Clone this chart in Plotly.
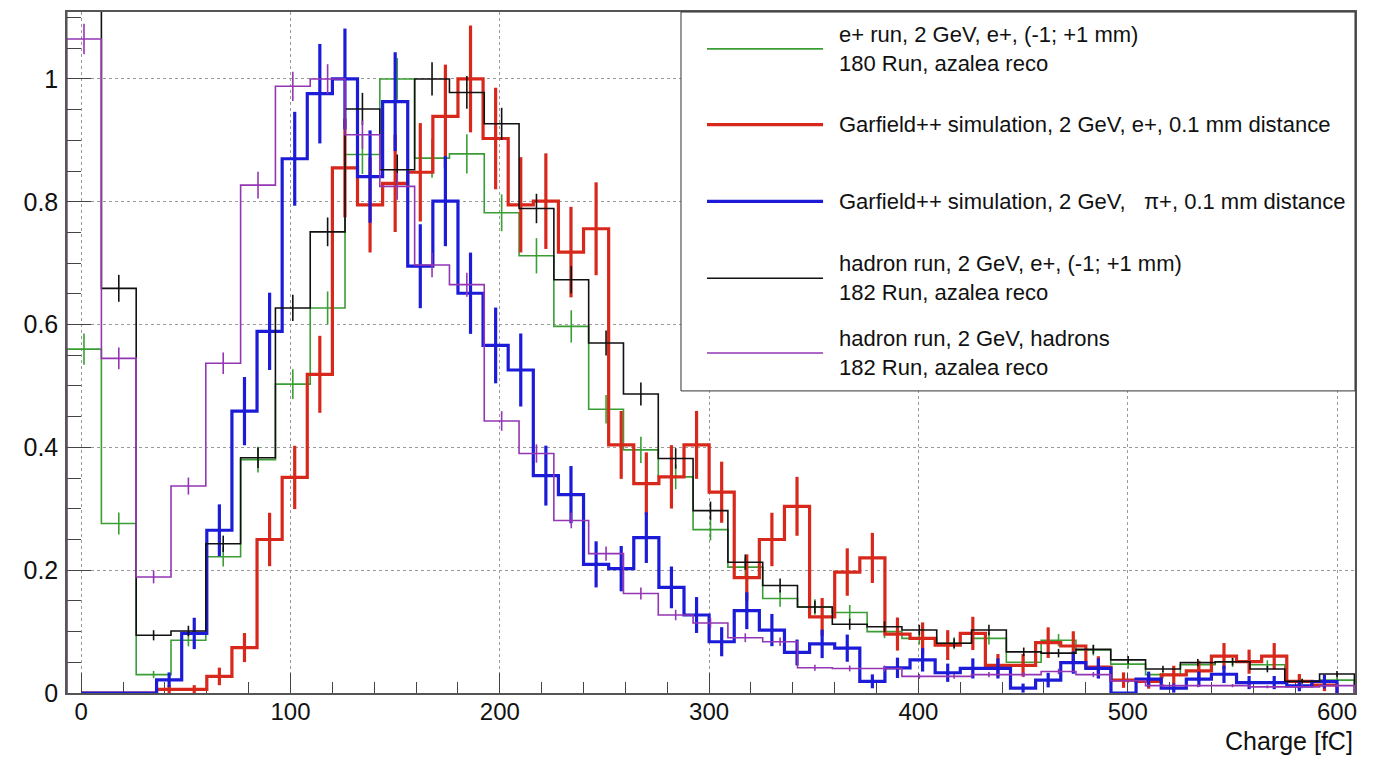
import plotly.graph_objects as go

# ---------------- data ----------------
# measured histograms: 37 bins, lower edge DATA_LO, width DATA_BW
DATA_LO = -7.0
DATA_BW = 16.63
green = [0.56, 0.276, 0.030, 0.086, 0.222, 0.38, 0.503, 0.627, 0.877, 1.0, 0.871, 0.878,
         0.782, 0.712, 0.597, 0.462, 0.396, 0.352, 0.266, 0.205, 0.154, 0.140, 0.131, 0.100,
         0.089, 0.081, 0.089, 0.050, 0.086, 0.070, 0.047, 0.030, 0.046, 0.050, 0.046, 0.019, 0.021]
black = [1.35, 0.659, 0.094, 0.101, 0.243, 0.383, 0.627, 0.751, 0.951, 0.852, 1.0, 0.978,
         0.927, 0.789, 0.673, 0.570, 0.487, 0.382, 0.297, 0.213, 0.175, 0.140, 0.112, 0.108,
         0.1025, 0.081, 0.1025, 0.067, 0.065, 0.071, 0.054, 0.039, 0.0495, 0.051, 0.039, 0.019, 0.031]
purple = [1.065, 0.545, 0.189, 0.337, 0.537, 0.827, 0.988, 1.0, 0.909, 0.825, 0.697, 0.665,
          0.443, 0.390, 0.281, 0.227, 0.162, 0.127, 0.114, 0.090, 0.0835, 0.041, 0.040, 0.040,
          0.027, 0.027, 0.030, 0.030, 0.035, 0.030, 0.020, 0.012, 0.012, 0.012, 0.010, 0.010, 0.012]

# simulated histograms: 50 bins, lower edge SIM_LO, width SIM_BW
SIM_LO = 0.0
SIM_BW = 12.0
red = [0, 0, 0, 0.006, 0.006, 0.027, 0.074, 0.250, 0.351, 0.519,
       0.855, 0.795, 0.830, 0.848, 0.939, 1.0, 0.903, 0.795, 0.801, 0.718,
       0.756, 0.404, 0.341, 0.352, 0.404, 0.327, 0.188, 0.250, 0.304, 0.124,
       0.197, 0.220, 0.096, 0.089, 0.078, 0.097, 0.045, 0.045, 0.082, 0.0765,
       0.042, 0.021, 0.019, 0.0295, 0.036, 0.060, 0.051, 0.060, 0.019, 0.013]
blue = [0, 0, 0, 0.0215, 0.097, 0.265, 0.459, 0.589, 0.870, 0.976,
        1.0, 0.841, 0.963, 0.695, 0.801, 0.651, 0.566, 0.526, 0.354, 0.323,
        0.2095, 0.2025, 0.253, 0.172, 0.127, 0.0835, 0.134, 0.1025, 0.066, 0.080,
        0.073, 0.019, 0.041, 0.054, 0.033, 0.040, 0.040, 0.008, 0.021, 0.0495,
        0.040, 0.0, 0.0225, 0.008, 0.0225, 0.0305, 0.017, 0.017, 0.0117, 0.0187]

# relative statistical error scale (err = scale * sqrt(content))
err_scale = {"green": 0.034, "black": 0.027, "purple": 0.024, "red": 0.087, "blue": 0.082}

labels = {
    "green": "e+ run, 2 GeV, e+, (-1; +1 mm)<br>180 Run, azalea reco",
    "red": "Garfield++ simulation, 2 GeV, e+, 0.1 mm distance",
    "blue": "Garfield++ simulation, 2 GeV, \u00a0\u00a0\u03c0+, 0.1 mm distance",
    "black": "hadron run, 2 GeV, e+, (-1; +1 mm)<br>182 Run, azalea reco",
    "purple": "hadron run, 2 GeV, hadrons<br>182 Run, azalea reco",
}
x_ticks = [0, 100, 200, 300, 400, 500, 600]
y_ticks = [0, 0.2, 0.4, 0.6, 0.8, 1.0]
y_ticktext = ["0", "0.2", "0.4", "0.6", "0.8", "1"]

# ---------------- styles ----------------
colors = {"green": "#3a9e34", "red": "#d8281c", "blue": "#1c1cd8",
          "black": "#111111", "purple": "#9436b4"}
widths = {"green": 1.6, "red": 3.2, "blue": 3.2, "black": 1.6, "purple": 1.6}
FONT = "Liberation Sans, Arial, Helvetica, sans-serif"

series = [("green", green, DATA_LO, DATA_BW), ("red", red, SIM_LO, SIM_BW),
          ("blue", blue, SIM_LO, SIM_BW), ("black", black, DATA_LO, DATA_BW),
          ("purple", purple, DATA_LO, DATA_BW)]

fig = go.Figure()
for name, vals, lo, bw in series:
    n = len(vals)
    edges = [lo + bw * i for i in range(n + 1)]
    centers = [lo + bw * (i + 0.5) for i in range(n)]
    xs, ys = [edges[0]], [0.0]
    for i, v in enumerate(vals):
        xs += [edges[i], edges[i + 1]]
        ys += [v, v]
    xs.append(edges[-1]); ys.append(0.0)
    fig.add_trace(go.Scatter(x=xs, y=ys, mode="lines", name=name, showlegend=False,
                             line=dict(color=colors[name], width=widths[name]),
                             hoverinfo="skip"))
    errs = [err_scale[name] * (v ** 0.5) for v in vals]
    fig.add_trace(go.Scatter(x=centers, y=vals, mode="markers", showlegend=False,
                             marker=dict(size=0.1, color=colors[name]),
                             error_y=dict(type="data", array=errs, width=0,
                                          thickness=widths[name], color=colors[name])))

# ---------------- legend (drawn manually, ROOT TLegend style) ----------------
L_X0, L_X1, L_Y0, L_Y1 = 0.4767, 1.0, 0.4436, 1.0
fig.add_shape(type="rect", xref="paper", yref="paper", x0=L_X0, x1=L_X1, y0=L_Y0, y1=L_Y1,
              line=dict(color="#333333", width=1), fillcolor="white", layer="above")
leg_y = {"green": 0.9458, "red": 0.8346, "blue": 0.7218, "black": 0.6091, "purple": 0.4993}
for name in ["green", "red", "blue", "black", "purple"]:
    fig.add_shape(type="line", xref="paper", yref="paper", x0=0.4969, x1=0.5870,
                  y0=leg_y[name], y1=leg_y[name],
                  line=dict(color=colors[name], width=widths[name]), layer="above")
    fig.add_annotation(xref="paper", yref="paper", x=0.5975, y=leg_y[name],
                       xanchor="left", yanchor="middle", showarrow=False, align="left",
                       text=labels[name], font=dict(family=FONT, size=22, color="#111111"))

fig.add_annotation(xref="paper", yref="paper", x=1.0, y=-0.0703, xanchor="right",
                   yanchor="middle", showarrow=False, text="Charge [fC]",
                   font=dict(family=FONT, size=25, color="#111111"))

fig.update_layout(
    width=1378, height=757,
    margin=dict(l=67, r=23, t=10, b=64),
    paper_bgcolor="white", plot_bgcolor="white",
    font=dict(family=FONT, color="#111111"),
    showlegend=False,
)
fig.update_xaxes(
    range=[-6.8, 608.6], tickvals=x_ticks, ticktext=[str(t) for t in x_ticks],
    ticks="inside", ticklen=20, tickwidth=1, tickcolor="#444444",
    minor=dict(dtick=20, tick0=0, ticks="inside", ticklen=11, tickcolor="#444444", showgrid=False),
    showgrid=True, gridcolor="#9a9a9a", griddash="dot", gridwidth=1,
    showline=True, linecolor="#555555", linewidth=1.5, mirror=True,
    tickfont=dict(family=FONT, size=24, color="#111111"), ticklabelstandoff=-4,
    zeroline=False, layer="below traces",
)
fig.update_yaxes(
    range=[0, 1.109], tickvals=y_ticks, ticktext=y_ticktext,
    ticks="inside", ticklen=24, tickwidth=1, tickcolor="#444444",
    minor=dict(dtick=0.05, tick0=0, ticks="inside", ticklen=14, tickcolor="#444444", showgrid=False),
    showgrid=True, gridcolor="#9a9a9a", griddash="dot", gridwidth=1,
    showline=True, linecolor="#555555", linewidth=1.5, mirror=True,
    tickfont=dict(family=FONT, size=25, color="#111111"), ticklabelstandoff=2,
    zeroline=False, layer="below traces",
)

fig.write_html("out.html")
